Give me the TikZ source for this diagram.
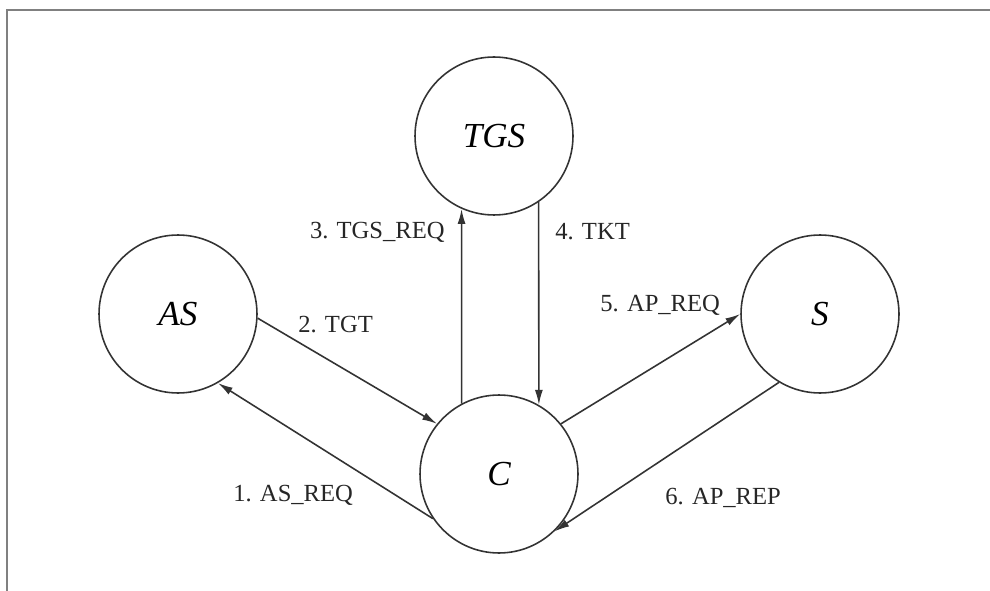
\documentclass[tikz,border=0pt]{standalone}
\usepackage{fontspec}
\setmainfont{Liberation Serif}
\usetikzlibrary{arrows.meta}

\begin{document}
\begin{tikzpicture}[x=0.02cm,y=-0.02cm]
        \useasboundingbox (0,0) rectangle (990,591);
        \tikzstyle{party} = [draw=black!80, shape=circle, minimum size=3.16cm, inner sep=0pt, line width=0.9pt, font=\fontsize{20}{24}\selectfont\itshape]
        \tikzstyle{msg} = [inner sep=0pt, text=black!85, font=\fontsize{14}{17}\selectfont]
        \draw[gray, line width=1.4pt] (7,591) -- (7,10) -- (990,10);
        \node[party] (TGS) at (494,136) {TGS};
        \node[party] (AS) at (178,314) {AS};
        \node[party] (S) at (820,314) {S};
        \node[party] (C) at (499,474) {C};
        \foreach \from/\a/\to/\b in {C/214/AS/300, AS/357/C/141, C/118/TGS/246, TGS/304/C/60, C/39/S/180, S/239/C/314}
            \draw[-{Latex[length=8.5pt,width=4.5pt]}, black!80, line width=0.9pt] (\from.\a) -- (\to.\b);
        \node[msg, anchor=west] (m1) at (233,495) {1. AS\_REQ};
        \node[msg, anchor=west] (m2) at (298,325) {2. TGT};
        \node[msg, anchor=east] (m3) at (445,232) {3. TGS\_REQ};
        \node[msg, anchor=west] (m4) at (555,232) {4. TKT};
        \node[msg, anchor=west] (m5) at (600,305) {5. AP\_REQ};
        \node[msg, anchor=west] (m6) at (665,498) {6. AP\_REP};
    \end{tikzpicture}
\end{document}
